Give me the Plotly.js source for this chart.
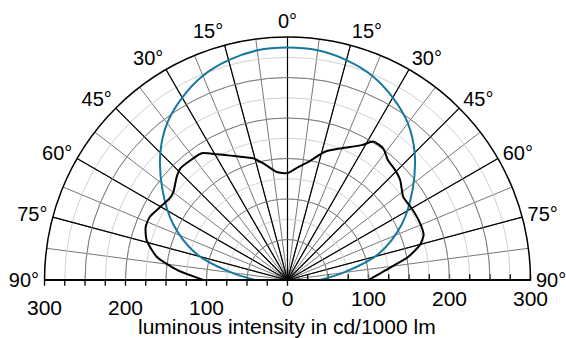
<!DOCTYPE html>
<html><head><meta charset="utf-8">
<script src="https://cdn.plot.ly/plotly-3.0.1.min.js"></script>
<style>html,body{margin:0;padding:0;background:#fff}#chart{width:566px;height:338px}</style>
</head><body><div id="chart"></div>
<script>
// Black measured curve (angle in degrees, 0 at top; negative = left)
const blackTheta = [-90,-84.8,-79.9,-74.1,-69.4,-65.3,-61,-55.2,-52.3,-47,-43.9,-37.7,-34.1,-29.3,-22.3,-15.7,-11.7,-5.7,0,
  5.4,10,16.3,22.4,28.8,31.8,36,40,44.3,48.4,54.3,60,66.8,71.7,75.2,79.1,82.7,90];
const blackR = [104,137,164,181,187,187,182,177,178,187,191,190,189,178,165,156,147,134,132,
  140,148,165,176,190,201,201,193,190,186,176,177,178,177,169,152,130,100];
// Blue reference curve
const blueTheta = [-90,-82,-74,-64,-54,-45,-37.5,-30,-22.5,-15,-7.5,0,7.5,15,22.5,30,37.5,45,54,64,74,82,90];
const blueR = [40,72,117,157,191,222,244,260,273,281,286,287,286,281,273,260,244,222,191,157,117,72,40];
// Axis labels
const angTickVals = [-90,-75,-60,-45,-30,-15,0,15,30,45,60,75,90];
const angTickText = ['90°','75°','60°','45°','30°','15°','0°','15°','30°','45°','60°','75°','90°'];
const fineAngVals = [];
for (let a = -90; a <= 90; a += 7.5) fineAngVals.push(a);
const radTickVals = [0,25,50,75,100,125,150,175,200,225,250,275,300];
const radTickTextRight = ['0','','','','100','','','','200','','','','300'];
const radTickTextLeft = ['','','','','100','','','','200','','','','300'];
const radMajorVals = [50,100,150,200,250,300];
const xTitle = 'luminous intensity in cd/1000 lm';

const FONT = 'Arial, "Liberation Sans", Helvetica, sans-serif';
const FS = 21;
const FSA = 20;
const dom = {x:[0.0777,0.9382], y:[0.1716,0.8905]};
const common = {sector:[0,180], domain:dom, hole:0};
const angBase = {rotation:90, direction:'clockwise', ticks:'', showline:false, tickfont:{family:FONT,size:FSA,color:'#000'}};
const radBase = {range:[0,300], showline:false, ticks:'', tickfont:{family:FONT,size:FS,color:'#000'}};

const data = [
  {type:'scatterpolar', subplot:'polar', theta:[], r:[], mode:'lines', hoverinfo:'skip'},
  {type:'scatterpolar', subplot:'polar2', theta:[], r:[], mode:'lines', hoverinfo:'skip'},
  {type:'scatterpolar', subplot:'polar3', theta:blueTheta, r:blueR, mode:'lines',
   line:{color:'#17789e', width:2, shape:'spline', smoothing:1}, hoverinfo:'skip'},
  {type:'scatterpolar', subplot:'polar3', theta:blackTheta, r:blackR, mode:'lines',
   line:{color:'#000', width:2, shape:'spline', smoothing:0.6}, hoverinfo:'skip'}
];

const layout = {
  width:566, height:338, margin:{l:0,r:0,t:0,b:0}, showlegend:false,
  paper_bgcolor:'#fff', font:{family:FONT, size:FS, color:'#000'},
  polar: Object.assign({}, common, {bgcolor:'#fff',
    angularaxis: Object.assign({}, angBase, {tickmode:'array', tickvals:fineAngVals, ticktext:fineAngVals.map(()=> ''), showgrid:true, gridcolor:'#777777', gridwidth:1}),
    radialaxis: Object.assign({}, radBase, {angle:0, side:'clockwise', tickmode:'array', tickvals:radTickVals, ticktext:radTickTextRight,
      showgrid:true, gridcolor:'#d0d0d0', gridwidth:1, showline:true, linecolor:'#000', linewidth:1.5, ticks:'inside', ticklen:5, tickcolor:'#000', tickwidth:1.3})
  }),
  polar2: Object.assign({}, common, {bgcolor:'rgba(0,0,0,0)',
    angularaxis: Object.assign({}, angBase, {tickmode:'array', tickvals:angTickVals, ticktext:angTickText, showgrid:true, gridcolor:'#000', gridwidth:1.2,
      ticks:'outside', ticklen:1, tickcolor:'rgba(0,0,0,0)'}),
    radialaxis: Object.assign({}, radBase, {angle:0, tickmode:'array', tickvals:radMajorVals, showticklabels:false, showgrid:true, gridcolor:'#7a7a7a', gridwidth:1})
  }),
  polar3: Object.assign({}, common, {bgcolor:'rgba(0,0,0,0)',
    angularaxis: Object.assign({}, angBase, {showticklabels:false, showgrid:false, showline:true, linecolor:'#000', linewidth:1.5}),
    radialaxis: Object.assign({}, radBase, {angle:180, side:'counterclockwise', tickangle:180, tickmode:'array', tickvals:radTickVals, ticktext:radTickTextLeft,
      showgrid:false, showline:true, linecolor:'#000', linewidth:1.5, ticks:'outside', ticklen:5, tickcolor:'#000', tickwidth:1.3})
  }),
  annotations:[{text:xTitle, xref:'paper', yref:'paper', x:0.507, y:0.033, xanchor:'center', yanchor:'middle', showarrow:false,
    font:{family:FONT, size:FS, color:'#000'}}]
};
Plotly.newPlot('chart', data, layout, {staticPlot:true, displayModeBar:false});
</script></body></html>
